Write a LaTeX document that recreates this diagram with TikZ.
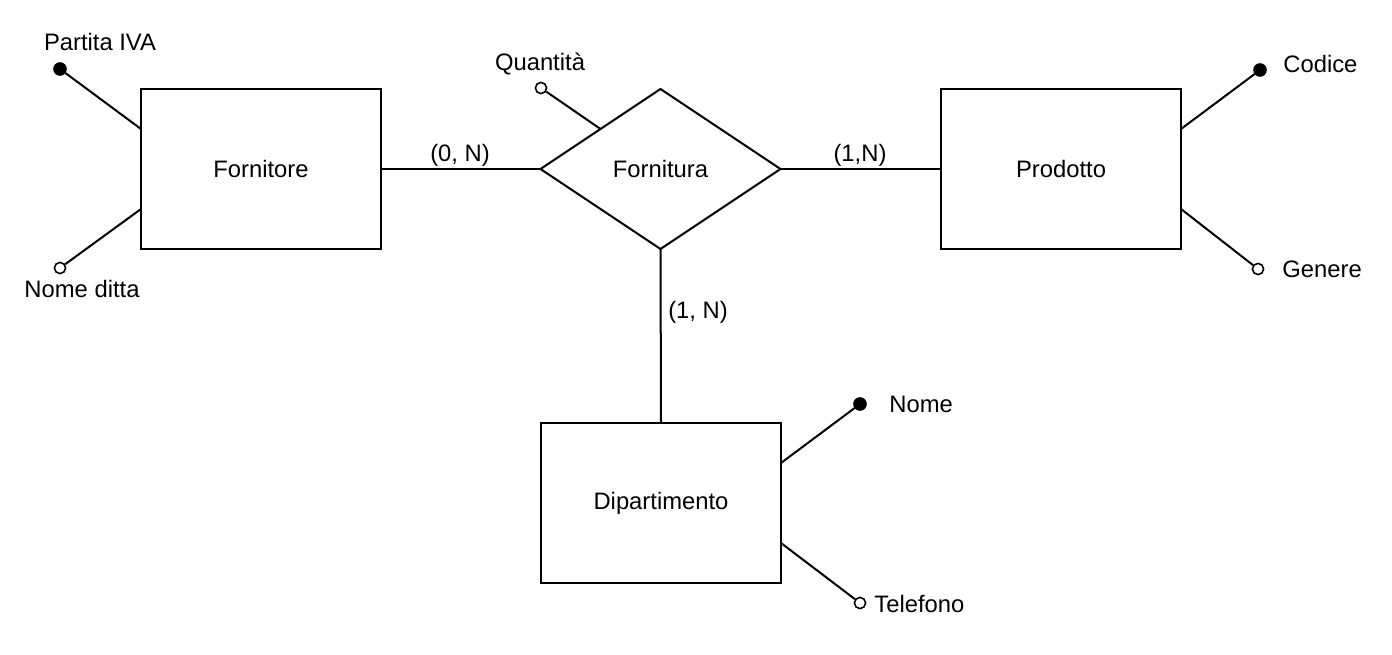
\documentclass[tikz,border=0pt]{standalone}
\usepackage{fontspec}
\setmainfont{Liberation Sans}
\usetikzlibrary{calc,shapes.geometric}
\begin{document}
\begin{tikzpicture}[x=0.5pt,y=-0.5pt,
  every node/.style={font=\fontsize{11.9pt}{14pt}\selectfont},
  entity/.style={draw,line width=1pt,rectangle,minimum width=120pt,minimum height=80pt,inner sep=0pt,outer sep=0pt},
  relation/.style={draw,line width=1pt,diamond,aspect=1.5,minimum width=120pt,minimum height=80pt,inner sep=0pt,outer sep=0pt},
  keyattr/.style={circle,draw,fill=black,line width=0.8pt,minimum size=6pt,inner sep=0pt},
  plainattr/.style={circle,draw,fill=white,line width=0.8pt,minimum size=5.6pt,inner sep=0pt},
  link/.style={line width=1pt},
  lbl/.style={inner sep=0pt}]
\path[use as bounding box] (0,0) rectangle (1392,654);
\node[entity] (forn) at (261,169) {Fornitore};
\node[relation] (fura) at (660.5,169) {Fornitura};
\node[entity] (prod) at (1061,169) {Prodotto};
\node[entity] (dip) at (661,503) {Dipartimento};
% relationship connectors
\draw[link] (forn.east) -- (fura.west);
\draw[link] (fura.east) -- (prod.west);
\draw[link] (fura.south) -- (dip.north);
\node[lbl] (c1) at (460,155) {(0, N)};
\node[lbl] (c2) at (860,155) {(1,N)};
\node[lbl] (c3) at (698,312) {(1, N)};
% attribute anchors
\coordinate (aPI) at ($(forn.north west)!0.25!(forn.south west)$);
\coordinate (aND) at ($(forn.north west)!0.75!(forn.south west)$);
\coordinate (aQ) at ($(fura.west)!0.5!(fura.north)$);
\coordinate (aC) at ($(prod.north east)!0.25!(prod.south east)$);
\coordinate (aG) at ($(prod.north east)!0.75!(prod.south east)$);
\coordinate (aN) at ($(dip.north east)!0.25!(dip.south east)$);
\coordinate (aT) at ($(dip.north east)!0.75!(dip.south east)$);
% attribute circles
\node[keyattr] (pPI) at (60,69) {};
\node[plainattr] (pND) at (60,268) {};
\node[plainattr] (pQ) at (541,88) {};
\node[keyattr] (pC) at (1260,70) {};
\node[plainattr] (pG) at (1258,269) {};
\node[keyattr] (pN) at (860,404) {};
\node[plainattr] (pT) at (860,603) {};
\draw[link] (aPI) -- (pPI);
\draw[link] (aND) -- (pND);
\draw[link] (aQ) -- (pQ);
\draw[link] (aC) -- (pC);
\draw[link] (aG) -- (pG);
\draw[link] (aN) -- (pN);
\draw[link] (aT) -- (pT);
% attribute labels
\node[lbl] (tPI) at (100,42) {Partita IVA};
\node[lbl] (tND) at (82,289) {Nome ditta};
\node[lbl] (tQ) at (540,64) {Quantità};
\node[lbl,anchor=west] (tC) at (1283,64) {Codice};
\node[lbl,anchor=west] (tG) at (1282,269) {Genere};
\node[lbl,anchor=west] (tN) at (889,404) {Nome};
\node[lbl,anchor=west] (tT) at (874,604) {Telefono};
\end{tikzpicture}
\end{document}
